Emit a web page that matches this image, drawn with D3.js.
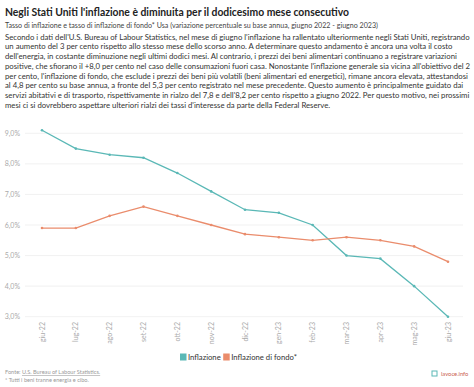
<!DOCTYPE html>
<html>
<head>
<meta charset="utf-8">
<script src="https://cdn.jsdelivr.net/npm/d3@7"></script>
<style>
  body { margin: 0; background: #fff; }
  svg { font-family: Lato, "Open Sans", sans-serif; }
</style>
</head>
<body>
<svg id="chart" width="474" height="387"></svg>
<script>
const months = ["giu-22", "lug-22", "ago-22", "set-22", "ott-22", "nov-22", "dic-22",
  "gen-23", "feb-23", "mar-23", "apr-23", "mag-23", "giu-23"];
const inflazione = [9.1, 8.5, 8.3, 8.2, 7.7, 7.1, 6.5, 6.4, 6.0, 5.0, 4.9, 4.0, 3.0];
const inflazioneFondo = [5.9, 5.9, 6.3, 6.6, 6.3, 6.0, 5.7, 5.6, 5.5, 5.6, 5.5, 5.3, 4.8];
const yTicks = [3, 4, 5, 6, 7, 8, 9];

const seriesList = [
  { name: "Inflazione", values: inflazione, color: "#5ab8b6" },
  { name: "Inflazione di fondo*", values: inflazioneFondo, color: "#ea8c6c" }
];

const title = "Negli Stati Uniti l'inflazione è diminuita per il dodicesimo mese consecutivo";
const subtitle = "Tasso di inflazione e tasso di inflazione di fondo* Usa (variazione percentuale su base annua, giugno 2022 - giugno 2023)";
const paragraph = [
  "Secondo i dati dell'U.S. Bureau of Labour Statistics, nel mese di giugno l'inflazione ha rallentato ulteriormente negli Stati Uniti, registrando",
  "un aumento del 3 per cento rispetto allo stesso mese dello scorso anno. A determinare questo andamento è ancora una volta il costo",
  "dell'energia, in costante diminuzione negli ultimi dodici mesi. Al contrario, i prezzi dei beni alimentari continuano a registrare variazioni",
  "positive, che sfiorano il +8,0 per cento nel caso delle consumazioni fuori casa. Nonostante l'inflazione generale sia vicina all'obiettivo del 2",
  "per cento, l'inflazione di fondo, che esclude i prezzi dei beni più volatili (beni alimentari ed energetici), rimane ancora elevata, attestandosi",
  "al 4,8 per cento su base annua, a fronte del 5,3 per cento registrato nel mese precedente. Questo aumento è principalmente guidato dai",
  "servizi abitativi e di trasporto, rispettivamente in rialzo del 7,8 e dell'8,2 per cento rispetto a giugno 2022. Per questo motivo, nei prossimi",
  "mesi ci si dovrebbero aspettare ulteriori rialzi dei tassi d'interesse da parte della Federal Reserve."
];

const svg = d3.select("#chart");

// header
svg.append("text")
  .attr("x", 5).attr("y", 16)
  .attr("font-size", 12).attr("font-weight", "bold").attr("fill", "#222")
  .attr("textLength", 344).attr("lengthAdjust", "spacingAndGlyphs")
  .text(title);

svg.append("text")
  .attr("x", 5).attr("y", 27.5)
  .attr("font-size", 7.3).attr("fill", "#444")
  .attr("textLength", 373).attr("lengthAdjust", "spacingAndGlyphs")
  .text(subtitle);

svg.append("g").selectAll("text")
  .data(paragraph)
  .enter().append("text")
  .attr("x", 5)
  .attr("y", (d, i) => 39.5 + i * 9.75)
  .attr("font-size", 7.75).attr("fill", "#333")
  .text(d => d);

// scales
const x = d3.scalePoint().domain(months).range([42, 448]);
const y = d3.scaleLinear().domain([3, 9]).range([316.7, 133.3]);

// grid + y labels
const grid = svg.append("g");
grid.selectAll("line")
  .data(yTicks)
  .enter().append("line")
  .attr("x1", 25).attr("x2", 463)
  .attr("y1", d => y(d)).attr("y2", d => y(d))
  .attr("stroke", "#eeeeee").attr("stroke-width", 0.8);

grid.selectAll("text")
  .data(yTicks)
  .enter().append("text")
  .attr("x", 20).attr("y", d => y(d) + 2.5)
  .attr("text-anchor", "end")
  .attr("font-size", 7).attr("fill", "#aaa")
  .text(d => d3.format(".1f")(d).replace(".", ",") + "%");

// x labels, rotated
svg.append("g").selectAll("text")
  .data(months)
  .enter().append("text")
  .attr("transform", d => `translate(${x(d) + 2.5},322) rotate(-90)`)
  .attr("text-anchor", "end")
  .attr("font-size", 7).attr("fill", "#aaa")
  .text(d => d);

// lines
const line = d3.line()
  .x((d, i) => x(months[i]))
  .y(d => y(d));

seriesList.forEach(s => {
  svg.append("path")
    .datum(s.values)
    .attr("fill", "none")
    .attr("stroke", s.color)
    .attr("stroke-width", 1.3)
    .attr("d", line);

  svg.append("g").selectAll("circle")
    .data(s.values)
    .enter().append("circle")
    .attr("cx", (d, i) => x(months[i]))
    .attr("cy", d => y(d))
    .attr("r", 1.3)
    .attr("fill", s.color);
});

// legend
const legend = svg.append("g").attr("transform", "translate(180,357)");
let lx = 0;
seriesList.forEach(s => {
  legend.append("rect")
    .attr("x", lx).attr("y", -3.5)
    .attr("width", 6.5).attr("height", 7)
    .attr("fill", s.color);
  const t = legend.append("text")
    .attr("x", lx + 8).attr("y", 3)
    .attr("font-size", 7.7).attr("fill", "#333")
    .text(s.name);
  lx += 8 + t.node().getComputedTextLength() + 2.5;
});

// footer
const foot = svg.append("text")
  .attr("x", 5).attr("y", 374)
  .attr("font-size", 5.6).attr("fill", "#999");
foot.append("tspan").text("Fonte: ");
foot.append("tspan").attr("text-decoration", "underline").text("U.S. Bureau of Labour Statistics.");

svg.append("text")
  .attr("x", 5).attr("y", 381.5)
  .attr("font-size", 5.6).attr("fill", "#999")
  .text("* Tutti i beni tranne energia e cibo.");

// logo
svg.append("rect")
  .attr("x", 432).attr("y", 371).attr("width", 5).attr("height", 5)
  .attr("fill", "none").attr("stroke", "#5ab8b6").attr("stroke-width", 1);
svg.append("text")
  .attr("x", 441).attr("y", 375.5)
  .attr("font-size", 5.8).attr("fill", "#c9604f")
  .text("lavoce.info");
</script>
</body>
</html>
